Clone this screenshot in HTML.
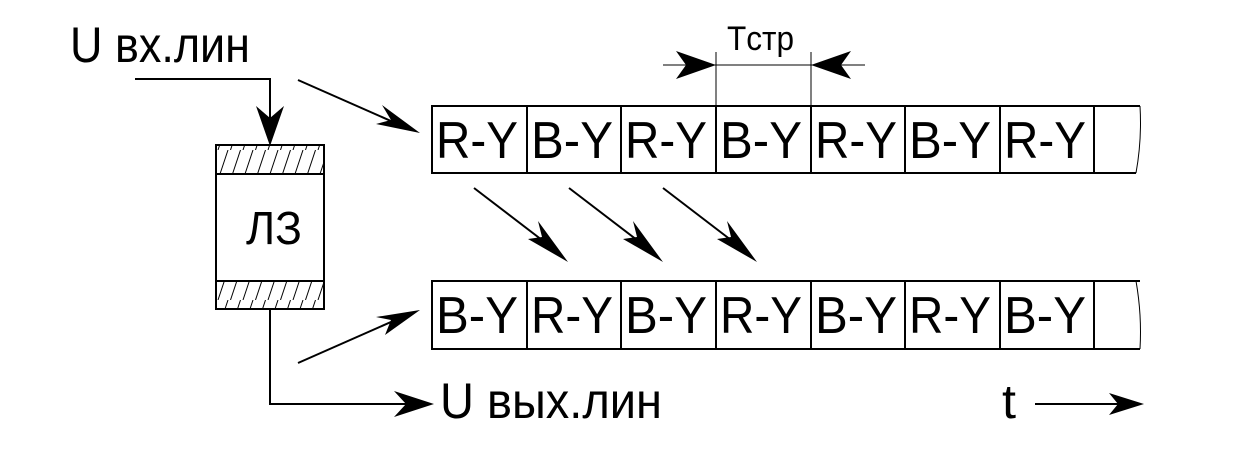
<!DOCTYPE html>
<html><head><meta charset="utf-8"><style>html,body{margin:0;padding:0;background:#fff}svg{display:block}</style></head>
<body>
<svg width="1236" height="455" viewBox="0 0 1236 455" xmlns="http://www.w3.org/2000/svg" font-family="Liberation Sans, sans-serif">
<defs>
<pattern id="h" patternUnits="userSpaceOnUse" width="12.5" height="30" x="216" y="0">
<line x1="2" y1="30" x2="12" y2="0" stroke="#000" stroke-width="1"/>
</pattern>
</defs>
<rect width="1236" height="455" fill="#fff"/>
<!-- labels -->
<text x="70" y="62" font-size="50" textLength="180" lengthAdjust="spacingAndGlyphs">U вх.лин</text>
<text x="440" y="418" font-size="50" textLength="222" lengthAdjust="spacingAndGlyphs">U вых.лин</text>
<text x="727" y="50" font-size="34" textLength="67" lengthAdjust="spacingAndGlyphs">Tстр</text>
<text x="1002" y="418" font-size="48" textLength="14" lengthAdjust="spacingAndGlyphs">t</text>
<!-- input line -->
<polyline points="135,79 270,79 270,130" fill="none" stroke="#000" stroke-width="2"/>
<polygon points="270,146 256,106 270,118 284,106" fill="#000"/>
<!-- delay line box -->
<rect x="216" y="145" width="108" height="29" fill="url(#h)"/>
<rect x="216" y="281" width="108" height="28" fill="url(#h)"/>
<rect x="216" y="145" width="108" height="164" fill="none" stroke="#000" stroke-width="2"/>
<line x1="216" y1="174" x2="324" y2="174" stroke="#000" stroke-width="2"/>
<line x1="216" y1="281" x2="324" y2="281" stroke="#000" stroke-width="2"/>
<text x="246" y="244" font-size="46" textLength="56" lengthAdjust="spacingAndGlyphs">ЛЗ</text>
<!-- output line -->
<polyline points="270,309 270,404 415,404" fill="none" stroke="#000" stroke-width="2"/>
<polygon points="434,404 394,391 406,404 394,417" fill="#000"/>
<!-- arrows -->
<g stroke="#000" stroke-width="2">
<line x1="298" y1="80" x2="400" y2="125"/>
<line x1="298" y1="363" x2="400" y2="318"/>
<line x1="474" y1="188" x2="555" y2="250"/>
<line x1="569" y1="188" x2="650" y2="250"/>
<line x1="663" y1="188" x2="744" y2="250"/>
<line x1="1035" y1="404" x2="1120" y2="404"/>
<line x1="663" y1="65" x2="865" y2="65" stroke-width="1"/>
<line x1="716" y1="52" x2="716" y2="106" stroke-width="1"/>
<line x1="811" y1="52" x2="811" y2="106" stroke-width="1"/>
</g>
<polygon points="420,133 376,124 391,120 382,105" fill="#000"/>
<polygon points="420,310 385,335 391,320 376,317" fill="#000"/>
<g fill="#000">
<polygon points="568,262 528,239 542,237 538,221"/>
<polygon points="663,262 623,239 637,237 633,221"/>
<polygon points="757,262 717,239 731,237 727,221"/>
<polygon points="1144,404 1109,393 1118,404 1109,415"/>
<polygon points="716,65 676,51 686,65 676,79"/>
<polygon points="811,65 851,51 841,65 851,79"/>
</g>
<!-- rows -->
<g stroke="#000" stroke-width="2" fill="none">
<path d="M1140,106 H432 V173 H1136"/>
<path d="M1140,281 H432 V349 H1140"/>
<path d="M1140,106 Q1142,140 1136,173" stroke-width="1"/>
<path d="M1136,281 Q1142,315 1140,349" stroke-width="1"/>
<line x1="527" y1="106" x2="527" y2="173"/><line x1="621" y1="106" x2="621" y2="173"/>
<line x1="716" y1="106" x2="716" y2="173"/><line x1="811" y1="106" x2="811" y2="173"/>
<line x1="905" y1="106" x2="905" y2="173"/><line x1="1000" y1="106" x2="1000" y2="173"/>
<line x1="1094" y1="106" x2="1094" y2="173"/>
<line x1="527" y1="281" x2="527" y2="349"/><line x1="621" y1="281" x2="621" y2="349"/>
<line x1="716" y1="281" x2="716" y2="349"/><line x1="811" y1="281" x2="811" y2="349"/>
<line x1="905" y1="281" x2="905" y2="349"/><line x1="1000" y1="281" x2="1000" y2="349"/>
<line x1="1094" y1="281" x2="1094" y2="349"/>
</g>
<g font-size="52">
<text x="436" y="158" textLength="82" lengthAdjust="spacingAndGlyphs">R-Y</text>
<text x="531" y="158" textLength="82" lengthAdjust="spacingAndGlyphs">B-Y</text>
<text x="625" y="158" textLength="82" lengthAdjust="spacingAndGlyphs">R-Y</text>
<text x="720" y="158" textLength="82" lengthAdjust="spacingAndGlyphs">B-Y</text>
<text x="815" y="158" textLength="82" lengthAdjust="spacingAndGlyphs">R-Y</text>
<text x="909" y="158" textLength="82" lengthAdjust="spacingAndGlyphs">B-Y</text>
<text x="1004" y="158" textLength="82" lengthAdjust="spacingAndGlyphs">R-Y</text>
<text x="436" y="333" textLength="82" lengthAdjust="spacingAndGlyphs">B-Y</text>
<text x="531" y="333" textLength="82" lengthAdjust="spacingAndGlyphs">R-Y</text>
<text x="625" y="333" textLength="82" lengthAdjust="spacingAndGlyphs">B-Y</text>
<text x="720" y="333" textLength="82" lengthAdjust="spacingAndGlyphs">R-Y</text>
<text x="815" y="333" textLength="82" lengthAdjust="spacingAndGlyphs">B-Y</text>
<text x="909" y="333" textLength="82" lengthAdjust="spacingAndGlyphs">R-Y</text>
<text x="1004" y="333" textLength="82" lengthAdjust="spacingAndGlyphs">B-Y</text>
</g>
</svg>
</body></html>
